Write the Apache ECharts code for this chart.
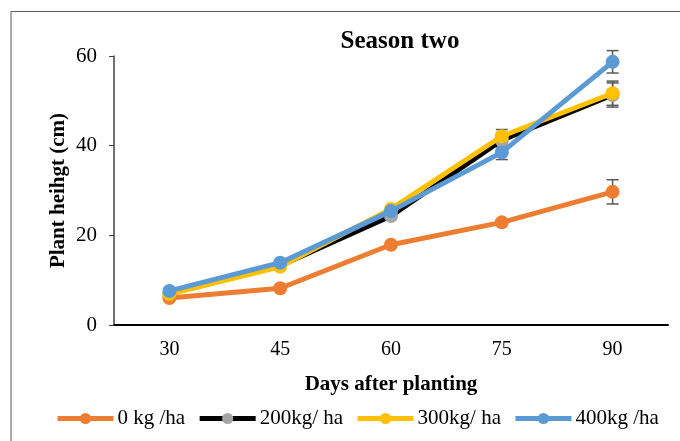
<!DOCTYPE html>
<html>
<head>
<meta charset="utf-8">
<script src="https://cdn.jsdelivr.net/npm/echarts@6/dist/echarts.min.js"></script>
<style>html,body{margin:0;padding:0;background:#fff}#c{width:680px;height:441px}</style>
</head>
<body>
<div id="c"></div>
<script>
var categories = ['30', '45', '60', '75', '90'];
var seriesNames = ['0 kg /ha', '200kg/ ha', '300kg/ ha', '400kg /ha'];
var kg0 = [6.0, 8.2, 17.9, 22.9, 29.7];
var kg200 = [7.0, 13.2, 24.3, 41.2, 51.3];
var kg300 = [6.9, 13.0, 25.9, 42.1, 51.7];
var kg400 = [7.6, 13.9, 25.4, 38.5, 58.7];
var err0 = [0.3, 0.3, 0.4, 0.5, 2.7];
var err200 = [0.3, 0.5, 0.6, 1.5, 2.7];
var err300 = [0.3, 0.5, 0.6, 1.5, 2.7];
var err400 = [0.3, 0.5, 0.6, 1.6, 2.5];
var yTicks = [0, 20, 40, 60];

var font = 'Liberation Serif';
var chart = echarts.init(document.getElementById('c'));

function errSeries(vals, errs, z) {
  return {
    type: 'custom',
    z: z,
    silent: true,
    data: vals.map(function (v, i) { return [i, v - errs[i], v + errs[i]]; }),
    renderItem: function (params, api) {
      var lo = api.coord([api.value(0), api.value(1)]);
      var hi = api.coord([api.value(0), api.value(2)]);
      var hw = 6;
      var st = { stroke: '#595959', lineWidth: 1.5 };
      return {
        type: 'group',
        children: [
          { type: 'line', shape: { x1: lo[0], y1: lo[1], x2: hi[0], y2: hi[1] }, style: st },
          { type: 'line', shape: { x1: lo[0] - hw, y1: lo[1], x2: lo[0] + hw, y2: lo[1] }, style: st },
          { type: 'line', shape: { x1: hi[0] - hw, y1: hi[1], x2: hi[0] + hw, y2: hi[1] }, style: st }
        ]
      };
    }
  };
}

function lineSeries(name, vals, lineColor, markColor, z) {
  return {
    name: name,
    type: 'line',
    z: z,
    data: vals,
    symbol: 'circle',
    symbolSize: 14,
    lineStyle: { color: lineColor, width: 5 },
    itemStyle: { color: markColor },
    emphasis: { disabled: true },
    animation: false
  };
}

chart.setOption({
  animation: false,
  backgroundColor: '#fff',
  title: {
    text: 'Season two',
    left: 395,
    top: 24,
    textAlign: 'center',
    textStyle: { fontFamily: font, fontWeight: 'bold', fontSize: 25, color: '#000' }
  },
  graphic: [{
    type: 'rect',
    shape: { x: 11, y: 11.5, width: 700, height: 500 },
    style: { fill: 'none', stroke: '#595959', lineWidth: 1 },
    silent: true,
    z: -1
  }],
  legend: {
    left: 50,
    top: 403,
    itemWidth: 56,
    itemHeight: 14,
    itemGap: 12,
    data: seriesNames,
    lineStyle: { width: 5 },
    textStyle: { fontFamily: font, fontSize: 21, color: '#000', padding: [0, 0, 0, -1] }
  },
  grid: { left: 114, right: 12, top: 56, bottom: 116, containLabel: false },
  xAxis: {
    type: 'category',
    data: categories,
    boundaryGap: true,
    name: 'Days after planting',
    nameLocation: 'middle',
    nameGap: 49,
    nameTextStyle: { fontFamily: font, fontWeight: 'bold', fontSize: 21, color: '#000' },
    axisLine: { lineStyle: { color: '#000', width: 2 } },
    axisTick: { show: false },
    axisLabel: { fontFamily: font, fontSize: 20, color: '#000', margin: 15 },
    splitLine: { show: false }
  },
  yAxis: {
    type: 'value',
    min: 0,
    max: 60,
    interval: 20,
    name: 'Plant heihgt (cm)',
    nameLocation: 'middle',
    nameGap: 45,
    nameMoveOverlap: false,
    nameTextStyle: { fontFamily: font, fontWeight: 'bold', fontSize: 21, color: '#000' },
    axisLine: { show: true, lineStyle: { color: '#404040', width: 1.5 } },
    axisTick: { show: true, inside: false, length: 5, lineStyle: { color: '#404040', width: 1 } },
    axisLabel: { fontFamily: font, fontSize: 21, color: '#000', margin: 17,
      formatter: function (v) { return yTicks.indexOf(v) >= 0 ? String(v) : ''; } },
    splitLine: { show: false }
  },
  series: [
    errSeries(kg0, err0, 1),
    errSeries(kg200, err200, 1),
    errSeries(kg300, err300, 1),
    errSeries(kg400, err400, 1),
    lineSeries(seriesNames[0], kg0, '#ED7D31', '#ED7D31', 2),
    lineSeries(seriesNames[1], kg200, '#000000', '#A5A5A5', 3),
    lineSeries(seriesNames[2], kg300, '#FFC000', '#FFC000', 4),
    lineSeries(seriesNames[3], kg400, '#5B9BD5', '#5B9BD5', 5)
  ]
});
</script>
</body>
</html>
